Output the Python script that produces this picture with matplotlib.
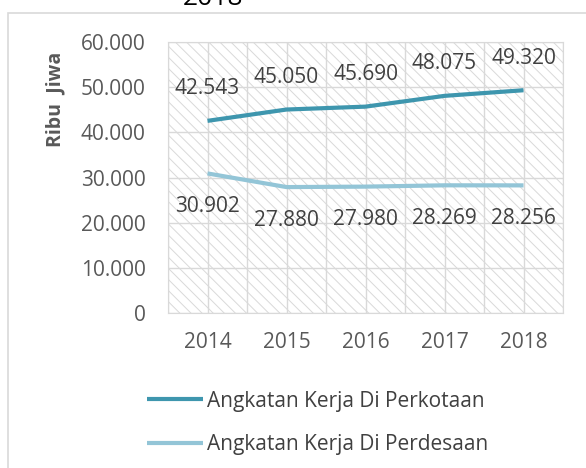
import numpy as np
import matplotlib.pyplot as plt
from matplotlib.patches import Rectangle

plt.rcParams['font.family'] = ['Open Sans', 'DejaVu Sans']
plt.rcParams['hatch.color'] = '#D6D6D6'
plt.rcParams['hatch.linewidth'] = 0.7

years = ['2014', '2015', '2016', '2017', '2018']
kota = [42543, 45050, 45690, 48075, 49320]
desa = [30902, 27880, 27980, 28269, 28256]
kota_lbl = ['42.543', '45.050', '45.690', '48.075', '49.320']
desa_lbl = ['30.902', '27.880', '27.980', '28.269', '28.256']
yticks = [0, 10000, 20000, 30000, 40000, 50000, 60000]
ytick_lbl = ['0', '10.000', '20.000', '30.000', '40.000', '50.000', '60.000']

c_kota = '#3E96AE'
c_desa = '#93C5D7'
grid_c = '#D9D9D9'
txt_c = '#404040'

fig = plt.figure(figsize=(5.86, 4.68), dpi=100)
ax = fig.add_axes([168 / 586, 1 - 313 / 468, 395 / 586, 271 / 468])

# hatched background
ax.add_patch(Rectangle((0, 0), 1, 1, transform=ax.transAxes, facecolor='white',
                       edgecolor=grid_c, hatch='\\\\\\', lw=0, zorder=0))

x = np.arange(len(years))
ax.plot(x, kota, color=c_kota, lw=3, solid_capstyle='butt', zorder=3,
        label='Angkatan Kerja Di Perkotaan')
ax.plot(x, desa, color=c_desa, lw=3, solid_capstyle='butt', zorder=3,
        label='Angkatan Kerja Di Perdesaan')

for xi, v, s in zip(x, kota, kota_lbl):
    ax.annotate(s, (xi, v), xytext=(0, 23), textcoords='offset points',
                ha='center', va='center', fontsize=15, color=txt_c)
for xi, v, s in zip(x, desa, desa_lbl):
    ax.annotate(s, (xi, v), xytext=(0, -24), textcoords='offset points',
                ha='center', va='center', fontsize=15, color=txt_c)

ax.set_xlim(-0.5, 4.5)
ax.set_ylim(0, 60000)
ax.set_xticks(x)
ax.set_xticklabels(years)
ax.set_xticks(np.arange(-0.5, 5, 1), minor=True)
ax.set_yticks(yticks)
ax.set_yticklabels(ytick_lbl)
ax.tick_params(axis='both', which='both', length=0, labelsize=15, colors='#595959')
ax.tick_params(axis='x', pad=14)
ax.tick_params(axis='y', pad=16)
ax.grid(True, which='both', color=grid_c, lw=1, zorder=1)
ax.set_axisbelow(True)
for sp in ax.spines.values():
    sp.set_color(grid_c)

fig.text(55 / 586, 1 - 99 / 468, 'Ribu  Jiwa', rotation=90, ha='center', va='center',
         fontsize=14, fontweight='bold', color='#595959')
fig.text(213 / 586, 1 - 5 / 468, '2018', ha='center', va='baseline',
         fontsize=19, color='black')

fig.legend(loc='upper left', bbox_to_anchor=(128 / 586, 1 - 372 / 468),
           frameon=False, fontsize=15, handlelength=2.7, handletextpad=0.2,
           labelspacing=1.06, labelcolor=txt_c)

fig.add_artist(Rectangle((8 / 586, -0.1), 1.2, 1.1 - 13 / 468, transform=fig.transFigure,
                         fill=False, edgecolor=grid_c, lw=1.2))

fig.savefig('out.png', dpi=100)
